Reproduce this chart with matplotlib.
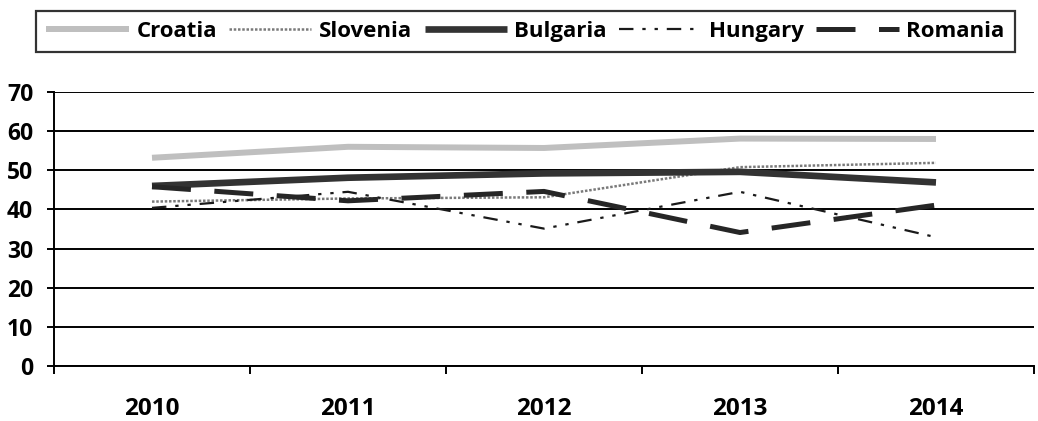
import matplotlib
matplotlib.use("Agg")
import matplotlib.pyplot as plt
from matplotlib.ticker import FixedLocator, NullFormatter

plt.rcParams['font.family'] = ['Open Sans', 'DejaVu Sans']
plt.rcParams['font.weight'] = 'bold'

years = ['2010', '2011', '2012', '2013', '2014']
croatia = [53.2, 56.0, 55.7, 58.1, 58.0]
slovenia = [42.0, 42.8, 43.1, 50.8, 51.9]
bulgaria = [46.0, 48.1, 49.2, 49.6, 46.9]
hungary = [40.4, 44.5, 35.1, 44.5, 32.9]
romania = [45.8, 42.2, 44.6, 34.1, 41.1]

fig = plt.figure(figsize=(10.38, 4.21), dpi=100)
ax = fig.add_axes([54/1038, 1-366/421, 980/1038, (366-92)/421])

x = list(range(len(years)))
ax.plot(x, croatia, color='#bfbfbf', lw=4.3, solid_capstyle='butt', label='Croatia', zorder=3)
ax.plot(x, slovenia, color='#7a7a7a', lw=1.8, linestyle=(0, (1.0, 0.7)), label='Slovenia', zorder=3)
ax.plot(x, bulgaria, color='#333333', lw=4.8, solid_capstyle='butt', label='Bulgaria', zorder=3)
ax.plot(x, hungary, color='#1a1a1a', lw=1.6, linestyle=(0, (6.5, 4, 1.5, 4, 1.5, 4)),
        dash_capstyle='butt', label='Hungary', zorder=3)
ax.plot(x, romania, color='#262626', lw=3.6, linestyle=(0, (7.8, 4.7)),
        dash_capstyle='butt', label='Romania', zorder=3)

ax.set_xlim(-0.5, 4.5)
ax.set_ylim(0, 70)
ax.set_yticks(range(0, 71, 10))
ax.yaxis.grid(True, color='black', lw=1.4)
ax.set_axisbelow(True)
for s in ['top', 'right']:
    ax.spines[s].set_visible(False)
ax.spines['left'].set_linewidth(1.4)
ax.spines['bottom'].set_linewidth(1.4)

ax.set_xticks(x)
ax.set_xticklabels(years)
ax.xaxis.set_minor_locator(FixedLocator([-0.5, 0.5, 1.5, 2.5, 3.5, 4.5]))
ax.xaxis.set_minor_formatter(NullFormatter())
ax.tick_params(axis='x', which='major', length=0, pad=22, labelsize=17.5)
ax.tick_params(axis='x', which='minor', length=6, width=1.4, direction='out')
ax.tick_params(axis='y', length=5, width=1.4, pad=10, labelsize=16.5)
for lab in ax.get_xticklabels() + ax.get_yticklabels():
    lab.set_fontweight('bold')

leg = fig.legend(loc='center', bbox_to_anchor=(525.5/1038, 1-31.5/421), ncol=5,
                 handlelength=3.7, handletextpad=0.35, columnspacing=0.55,
                 frameon=True, fancybox=False, edgecolor='black', borderpad=0.45,
                 prop={'weight': 'bold', 'size': 16})
leg.get_frame().set_linewidth(1.6)

fig.savefig('out.png', dpi=100)
